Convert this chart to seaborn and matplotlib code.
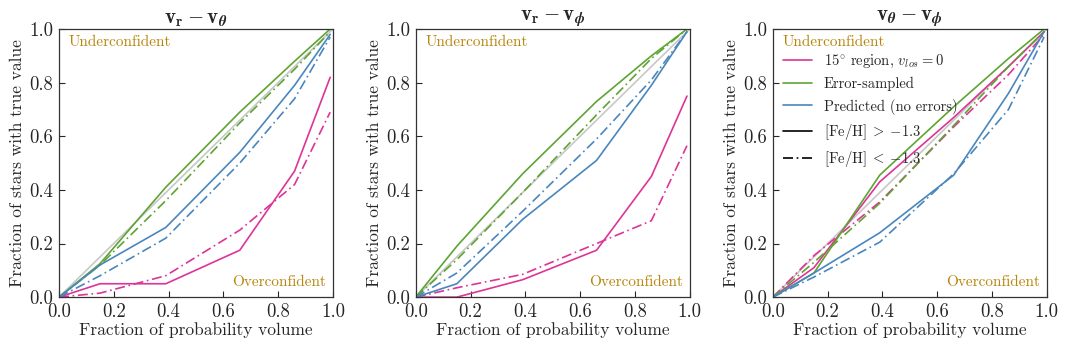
import numpy as np
import pandas as pd
import matplotlib
matplotlib.use("Agg")
import matplotlib.pyplot as plt
import seaborn as sns
from matplotlib.lines import Line2D

# ---------------- data ----------------
x_pts = [0.0, 0.15, 0.39, 0.66, 0.86, 0.99]

titles = [r"$\mathbf{v}_\mathbf{r} - \mathbf{v}_{\boldsymbol{\theta}}$",
          r"$\mathbf{v}_\mathbf{r} - \mathbf{v}_{\boldsymbol{\phi}}$",
          r"$\mathbf{v}_{\boldsymbol{\theta}} - \mathbf{v}_{\boldsymbol{\phi}}$"]

# panel 1: vr - vtheta
p1_pink_hi = [0.0, 0.05, 0.05, 0.175, 0.47, 0.82]
p1_pink_lo = [0.0, 0.015, 0.08, 0.25, 0.42, 0.69]
p1_green_hi = [0.0, 0.125, 0.41, 0.69, 0.88, 1.0]
p1_green_lo = [0.0, 0.12, 0.36, 0.65, 0.85, 0.99]
p1_blue_hi = [0.0, 0.12, 0.26, 0.54, 0.79, 0.98]
p1_blue_lo = [0.0, 0.08, 0.22, 0.50, 0.74, 0.97]

# panel 2: vr - vphi
p2_pink_hi = [0.0, 0.0, 0.065, 0.175, 0.45, 0.75]
p2_pink_lo = [0.0, 0.035, 0.085, 0.20, 0.285, 0.565]
p2_green_hi = [0.0, 0.19, 0.46, 0.73, 0.90, 1.0]
p2_green_lo = [0.0, 0.14, 0.39, 0.68, 0.89, 1.0]
p2_blue_hi = [0.0, 0.05, 0.29, 0.51, 0.79, 0.99]
p2_blue_lo = [0.0, 0.09, 0.32, 0.59, 0.81, 0.99]

# panel 3: vtheta - vphi
p3_pink_hi = [0.0, 0.11, 0.43, 0.67, 0.86, 0.99]
p3_pink_lo = [0.0, 0.155, 0.355, 0.635, 0.83, 0.98]
p3_green_hi = [0.0, 0.09, 0.455, 0.71, 0.89, 1.0]
p3_green_lo = [0.0, 0.13, 0.35, 0.64, 0.86, 0.99]
p3_blue_hi = [0.0, 0.09, 0.24, 0.455, 0.76, 0.99]
p3_blue_lo = [0.0, 0.075, 0.205, 0.46, 0.70, 0.97]

panels = [
    [p1_pink_hi, p1_pink_lo, p1_green_hi, p1_green_lo, p1_blue_hi, p1_blue_lo],
    [p2_pink_hi, p2_pink_lo, p2_green_hi, p2_green_lo, p2_blue_hi, p2_blue_lo],
    [p3_pink_hi, p3_pink_lo, p3_green_hi, p3_green_lo, p3_blue_hi, p3_blue_lo],
]
series_names = ["15° region", "15° region", "Error-sampled", "Error-sampled",
                "Predicted", "Predicted"]
metal = ["hi", "lo", "hi", "lo", "hi", "lo"]

legend_labels = [r"15$^{\circ}$ region, $v_{los}=0$", "Error-sampled",
                 "Predicted (no errors)", r"$[\mathrm{Fe/H}]\;>\;{-}1.3$",
                 r"$[\mathrm{Fe/H}]\;<\;{-}1.3$"]

# ---------------- style ----------------
sns.set_style("ticks")
plt.rcParams["font.family"] = ["cmr10", "DejaVu Serif"]
plt.rcParams["mathtext.fontset"] = "cm"
plt.rcParams["axes.formatter.use_mathtext"] = True
plt.rcParams["axes.unicode_minus"] = False

PINK = "#dd3497"
GREEN = "#5ea432"
BLUE = "#4a86bd"
GOLD = "#b8860b"
colors = {"15° region": PINK, "Error-sampled": GREEN, "Predicted": BLUE}
styles = {"hi": "-", "lo": (0, (6, 2.2, 1, 2.2))}

fig = plt.figure(figsize=(10.66, 3.5), dpi=100)
lefts = [0.0553, 0.390, 0.725]
axes = [fig.add_axes([l, 0.151, 0.257, 0.766]) for l in lefts]

for ax, title, data in zip(axes, titles, panels):
    diag = pd.DataFrame({"x": [0.0, 1.0], "y": [0.0, 1.0]})
    sns.lineplot(data=diag, x="x", y="y", ax=ax, color="#c8c8c8", lw=1.2,
                 estimator=None, sort=False)
    for name, m, ys in zip(series_names, metal, data):
        df = pd.DataFrame({"x": x_pts, "y": ys})
        sns.lineplot(data=df, x="x", y="y", ax=ax, color=colors[name],
                     linestyle=styles[m], lw=1.2, estimator=None, sort=False)
    ax.set_xlim(0, 1)
    ax.set_ylim(0, 1)
    ax.set_xticks([0, 0.2, 0.4, 0.6, 0.8, 1.0])
    ax.set_yticks([0, 0.2, 0.4, 0.6, 0.8, 1.0])
    ax.xaxis.set_major_formatter(matplotlib.ticker.FormatStrFormatter("%.1f"))
    ax.yaxis.set_major_formatter(matplotlib.ticker.FormatStrFormatter("%.1f"))
    ax.tick_params(direction="in", labelsize=13.5, length=4, width=0.8,
                   top=False, right=False, pad=4)
    for sp in ax.spines.values():
        sp.set_color("#333333")
        sp.set_linewidth(0.9)
    ax.set_xlabel("Fraction of probability volume", fontsize=12.5, labelpad=1)
    ax.set_ylabel("Fraction of stars with true value", fontsize=12.5, labelpad=3)
    ax.set_title(title, fontsize=15, pad=4)
    ax.text(0.035, 0.975, "Underconfident", transform=ax.transAxes,
            color=GOLD, fontsize=11, ha="left", va="top")
    ax.text(0.975, 0.03, "Overconfident", transform=ax.transAxes,
            color=GOLD, fontsize=11, ha="right", va="bottom")

handles = [Line2D([], [], color=PINK, lw=1.2),
           Line2D([], [], color=GREEN, lw=1.2),
           Line2D([], [], color=BLUE, lw=1.2),
           Line2D([], [], color="black", lw=1.2, linestyle="-"),
           Line2D([], [], color="black", lw=1.2, linestyle=styles["lo"])]
axes[2].legend(handles, legend_labels, loc="upper left",
               bbox_to_anchor=(0.0, 0.95), frameon=False, fontsize=10.5,
               handlelength=2.0, labelspacing=0.5, handletextpad=0.8,
               borderaxespad=0.3)

fig.savefig("out.png", dpi=100)
